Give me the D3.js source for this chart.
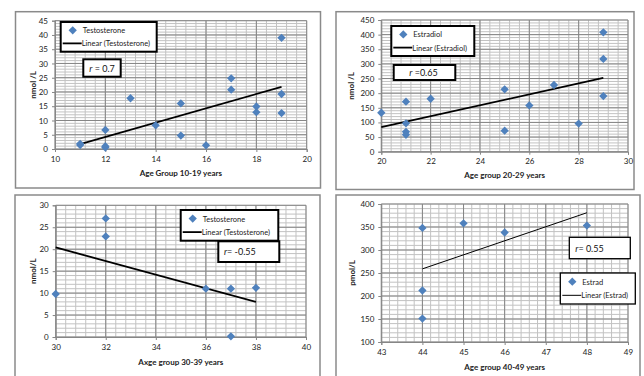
<!DOCTYPE html>
<html>
<head>
<meta charset="utf-8">
<script src="https://cdn.jsdelivr.net/npm/d3@7/dist/d3.min.js"></script>
<style>
  body { margin: 0; background: #fff; }
  svg { display: block; font-family: Lato, "Open Sans", sans-serif; }
</style>
</head>
<body>
<script>
// panel 1 : testosterone 10-19
var ageA = [11, 11, 12, 12, 12, 13, 14, 15, 15, 16, 17, 17, 18, 18, 19, 19, 19];
var testoA = [1.4, 1.8, 6.7, 1.0, 0.5, 17.8, 8.3, 16, 4.7, 1.3, 24.8, 20.8, 14.9, 12.9, 39, 19.3, 12.6];
var trendA = [[11, 1.75], [19, 21.8]];

// panel 2 : estradiol 20-29
var ageB = [20, 21, 21, 21, 21, 22, 25, 25, 26, 27, 28, 29, 29, 29];
var estraB = [133, 171, 97, 68, 58, 181, 213, 72, 158, 228, 96, 408, 317, 190];
var trendB = [[20, 84], [29, 252]];

// panel 3 : testosterone 30-39
var ageC = [30, 32, 32, 36, 37, 37, 38];
var testoC = [9.8, 27, 22.9, 11.0, 11.0, 0.15, 11.2];
var trendC = [[30, 20.4], [38, 8.0]];

// panel 4 : estradiol 40-49
var ageD = [44, 44, 44, 45, 46, 48];
var estraD = [348, 212, 151, 358, 338, 353];
var trendD = [[44, 259], [48, 381]];

var W = 644, H = 376;
var blue = "#4f81bd";

var svg = d3.select("body").append("svg")
    .attr("width", W)
    .attr("height", H);

function drawPanel(p) {
    var g = svg.append("g");

    // outer frame
    g.append("rect")
        .attr("x", p.frame[0]).attr("y", p.frame[1])
        .attr("width", p.frame[2] - p.frame[0]).attr("height", p.frame[3] - p.frame[1])
        .attr("fill", "#fff").attr("stroke", "#8a8a8a").attr("stroke-width", 1.5);

    var x = d3.scaleLinear().domain(p.xDomain).range([p.plot[0], p.plot[2]]);
    var y = d3.scaleLinear().domain(p.yDomain).range([p.plot[3], p.plot[1]]);

    var xMinor = d3.range(p.xDomain[0], p.xDomain[1] + 1e-6, p.xStep / 5);
    var yMinor = d3.range(p.yDomain[0], p.yDomain[1] + 1e-6, p.yStep / 5);
    var xMajor = d3.range(p.xDomain[0], p.xDomain[1] + 1e-6, p.xStep);
    var yMajor = d3.range(p.yDomain[0], p.yDomain[1] + 1e-6, p.yStep);

    // minor grid
    g.selectAll(".vminor").data(xMinor).enter().append("line")
        .attr("x1", d => x(d)).attr("x2", d => x(d))
        .attr("y1", y(p.yDomain[0])).attr("y2", y(p.yDomain[1]))
        .attr("stroke", "#c2c2c2").attr("stroke-width", 1);
    g.selectAll(".hminor").data(yMinor).enter().append("line")
        .attr("y1", d => y(d)).attr("y2", d => y(d))
        .attr("x1", x(p.xDomain[0])).attr("x2", x(p.xDomain[1]))
        .attr("stroke", "#c2c2c2").attr("stroke-width", 1);

    // major grid
    g.selectAll(".vmajor").data(xMajor).enter().append("line")
        .attr("x1", d => x(d)).attr("x2", d => x(d))
        .attr("y1", y(p.yDomain[0])).attr("y2", y(p.yDomain[1]))
        .attr("stroke", "#858585").attr("stroke-width", 1);
    g.selectAll(".hmajor").data(yMajor).enter().append("line")
        .attr("y1", d => y(d)).attr("y2", d => y(d))
        .attr("x1", x(p.xDomain[0])).attr("x2", x(p.xDomain[1]))
        .attr("stroke", "#858585").attr("stroke-width", 1);

    // axes
    var ax = g.append("g")
        .attr("transform", "translate(0," + y(p.yDomain[0]) + ")")
        .call(d3.axisBottom(x).tickValues(xMajor).tickSize(3).tickPadding(4).tickFormat(d3.format("d")));
    var ay = g.append("g")
        .attr("transform", "translate(" + x(p.xDomain[0]) + ",0)")
        .call(d3.axisLeft(y).tickValues(yMajor).tickSize(3).tickPadding(4).tickFormat(d3.format("d")));
    [ax, ay].forEach(function(a) {
        a.select(".domain").attr("stroke", "#868686");
        a.selectAll(".tick line").attr("stroke", "#868686");
        a.selectAll("text").attr("fill", "#222").style("font-size", "8px")
            .style("font-family", "Lato, sans-serif");
    });

    // axis titles
    g.append("text")
        .attr("x", (p.plot[0] + p.plot[2]) / 2).attr("y", p.xTitleY)
        .attr("text-anchor", "middle")
        .style("font-size", "8px").style("font-weight", "bold").attr("fill", "#222")
        .text(p.xTitle);
    g.append("text")
        .attr("transform", "translate(" + p.yTitleX + "," + (p.plot[1] + p.plot[3]) / 2 + ") rotate(-90)")
        .attr("text-anchor", "middle")
        .style("font-size", "8px").style("font-weight", "bold").attr("fill", "#222")
        .text(p.yTitle);

    // trend line
    g.append("line")
        .attr("x1", x(p.trend[0][0])).attr("y1", y(p.trend[0][1]))
        .attr("x2", x(p.trend[1][0])).attr("y2", y(p.trend[1][1]))
        .attr("stroke", "#000").attr("stroke-width", p.trendW);

    // points
    var diamond = d3.symbol().type(d3.symbolDiamond2).size(44);
    g.selectAll(".pt").data(p.xs).enter().append("path")
        .attr("d", diamond)
        .attr("transform", (d, i) => "translate(" + x(d) + "," + y(p.ys[i]) + ")")
        .attr("fill", blue);

    // legend
    var L = p.legend;
    g.append("rect")
        .attr("x", L[0]).attr("y", L[1]).attr("width", L[2] - L[0]).attr("height", L[3] - L[1])
        .attr("fill", "#fff").attr("stroke", "#000").attr("stroke-width", p.boxW);
    var lx = L[0] + 2, ly1 = L[1] + (L[3] - L[1]) * 0.28, ly2 = L[1] + (L[3] - L[1]) * 0.72;
    g.append("path").attr("d", diamond)
        .attr("transform", "translate(" + (lx + 10) + "," + ly1 + ")").attr("fill", blue);
    g.append("text").attr("x", lx + 20).attr("y", ly1 + 3)
        .style("font-size", "7.5px").attr("fill", "#222").text(p.seriesName);
    g.append("line").attr("x1", lx).attr("x2", lx + 19).attr("y1", ly2).attr("y2", ly2)
        .attr("stroke", "#000").attr("stroke-width", p.trendW);
    g.append("text").attr("x", lx + 19).attr("y", ly2 + 3)
        .style("font-size", "7.5px").attr("fill", "#222").text("Linear (" + p.seriesName + ")");

    // r box
    var R = p.rbox;
    g.append("rect")
        .attr("x", R[0]).attr("y", R[1]).attr("width", R[2] - R[0]).attr("height", R[3] - R[1])
        .attr("fill", "#fff").attr("stroke", "#000").attr("stroke-width", p.boxW);
    var rt = g.append("text").attr("x", p.rText[0]).attr("y", (R[1] + R[3]) / 2 + 3.5)
        .attr("text-anchor", p.rText[1])
        .style("font-size", "9px").attr("fill", "#111");
    rt.append("tspan").style("font-style", "italic").text("r");
    rt.append("tspan").text(p.rLabel);
}

drawPanel({
    frame: [15.5, 11.7, 320.5, 188],
    plot: [55, 20.7, 306.7, 149],
    xDomain: [10, 20], xStep: 2, yDomain: [0, 45], yStep: 5,
    xs: ageA, ys: testoA, trend: trendA, trendW: 1.8,
    xTitle: "Age Group  10-19 years", xTitleY: 176, yTitle: "nmol /L", yTitleX: 36,
    seriesName: "Testosterone", legend: [60.7, 22, 156.7, 51.7], boxW: 2,
    rbox: [83.3, 59.3, 120.7, 76.7], rText: [102, "middle"], rLabel: " = 0.7"
});

drawPanel({
    frame: [336, 11.7, 634, 189.5],
    plot: [381.3, 20, 628, 151.7],
    xDomain: [20, 30], xStep: 2, yDomain: [0, 450], yStep: 50,
    xs: ageB, ys: estraB, trend: trendB, trendW: 1.8,
    xTitle: "Age group 20-29 years", xTitleY: 178, yTitle: "nmol /L", yTitleX: 354,
    seriesName: "Estradiol", legend: [391.3, 26, 474.3, 56], boxW: 2,
    rbox: [393.7, 65, 455.3, 80], rText: [409.3, "start"], rLabel: "  =0.65"
});

drawPanel({
    frame: [15, 195, 320, 380],
    plot: [55.7, 205.3, 306, 337],
    xDomain: [30, 40], xStep: 2, yDomain: [0, 30], yStep: 5,
    xs: ageC, ys: testoC, trend: trendC, trendW: 1.8,
    xTitle: "Axge group 30-39 years", xTitleY: 365, yTitle: "nmol/L", yTitleX: 36,
    seriesName: "Testosterone", legend: [180.7, 210, 278.3, 240.7], boxW: 2,
    rbox: [218.3, 241.3, 279.3, 262], rText: [224, "start"], rLabel: "= -0.55"
});

drawPanel({
    frame: [336, 195, 640, 380],
    plot: [381.3, 204, 628, 342],
    xDomain: [43, 49], xStep: 1, yDomain: [100, 400], yStep: 50,
    xs: ageD, ys: estraD, trend: trendD, trendW: 1,
    xTitle: "Age group 40-49 years", xTitleY: 370, yTitle: "pmol/L", yTitleX: 355,
    seriesName: "Estrad", legend: [560.3, 273, 635.3, 304], boxW: 1.3,
    rbox: [569.3, 237.3, 630.3, 258.7], rText: [575.3, "start"], rLabel: "= 0.55"
});
</script>
</body>
</html>
